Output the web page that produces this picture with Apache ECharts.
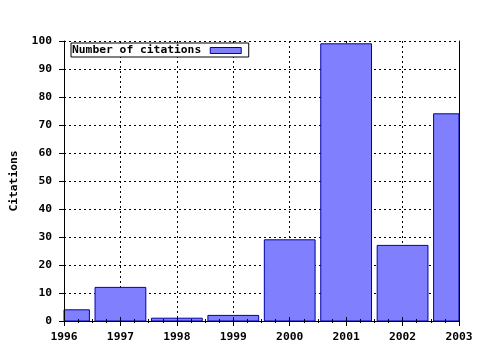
<!DOCTYPE html>
<html><head><meta charset="utf-8">
<script src="https://cdn.jsdelivr.net/npm/echarts@6/dist/echarts.min.js"></script>
<style>html,body{margin:0;padding:0;background:#fff}#c{width:480px;height:350px}</style>
</head><body><div id="c"></div>
<script>
const years = [1996, 1997, 1998, 1999, 2000, 2001, 2002, 2003];
const citations = [4, 12, 1, 2, 29, 99, 27, 74];
const seriesName = 'Number of citations';
const yTitle = 'Citations';

const FONT = 'DejaVu Sans Mono';
const FS = 11.3;
const BAR_FRAC = 0.9;
const FILL = '#8080ff', EDGE = '#0000a8';
const chart = echarts.init(document.getElementById('c'), null, {renderer: 'canvas'});
const dash = {color: '#000', type: [2, 3], width: 1};
const gridBox = {left: 64, right: 21, top: 41, bottom: 29, containLabel: false};
const xMin = years[0], xMax = years[years.length - 1];
const lineStyle = {show: true, lineStyle: {color: '#000', width: 1}};
const txt = {color: '#000', fontFamily: FONT, fontWeight: 'bold', fontSize: FS};

chart.setOption({
  animation: false,
  backgroundColor: '#fff',
  grid: [Object.assign({}, gridBox), Object.assign({}, gridBox)],
  legend: {
    z: 20,
    left: 71, top: 43, orient: 'horizontal', align: 'right',
    itemWidth: 31, itemHeight: 6, icon: 'rect',
    padding: [2, 7, 1, 1],
    borderColor: '#000', borderWidth: 1, borderRadius: 0, backgroundColor: '#fff',
    itemStyle: {color: FILL, borderColor: EDGE, borderWidth: 1},
    textStyle: Object.assign({padding: [0, 4, 0, 0]}, txt),
    data: [seriesName]
  },
  xAxis: [{
    gridIndex: 0, type: 'value', min: xMin, max: xMax, interval: 1, position: 'bottom', z: 0,
    axisLine: {show: false}, axisTick: {show: false}, axisLabel: {show: false},
    splitLine: {show: true, lineStyle: dash}
  }, {
    gridIndex: 1, type: 'value', min: xMin, max: xMax, interval: 1, position: 'bottom', z: 5,
    axisLine: lineStyle,
    axisTick: {show: true, inside: false, length: 5, lineStyle: {color: '#000'}},
    minorTick: {show: true, splitNumber: 4, length: 2, lineStyle: {color: '#000'}},
    axisLabel: Object.assign({margin: 11, formatter: v => String(v)}, txt),
    splitLine: {show: false}
  }, {
    gridIndex: 1, type: 'value', min: xMin, max: xMax, interval: 1, position: 'top', z: 5,
    axisLine: lineStyle,
    axisTick: {show: true, inside: false, length: 4, lineStyle: {color: '#000'}},
    minorTick: {show: true, splitNumber: 4, length: 2, lineStyle: {color: '#000'}},
    axisLabel: {show: false}, splitLine: {show: false}
  }],
  yAxis: [{
    gridIndex: 0, type: 'value', min: 0, max: 100, interval: 10, position: 'left', z: 0,
    axisLine: {show: false}, axisTick: {show: false}, axisLabel: {show: false},
    splitLine: {show: true, lineStyle: dash}
  }, {
    gridIndex: 1, type: 'value', min: 0, max: 100, interval: 10, position: 'left', z: 5,
    name: yTitle, nameLocation: 'middle', nameGap: 44,
    nameTextStyle: txt,
    axisLine: lineStyle,
    axisTick: {show: true, inside: false, length: 5, lineStyle: {color: '#000'}},
    axisLabel: Object.assign({margin: 12}, txt),
    splitLine: {show: false}
  }, {
    gridIndex: 1, type: 'value', min: 0, max: 100, interval: 10, position: 'right', z: 5,
    axisLine: lineStyle,
    axisTick: {show: false}, axisLabel: {show: false}, splitLine: {show: false}
  }],
  series: [{
    name: seriesName, type: 'custom', xAxisIndex: 0, yAxisIndex: 0, z: 2,
    itemStyle: {color: FILL, borderColor: EDGE, borderWidth: 1},
    encode: {x: 0, y: 1},
    renderItem: function (params, api) {
      const x = api.value(0), v = api.value(1);
      const top = api.coord([x, v]);
      const base = api.coord([x, 0]);
      const w = api.size([1, 0])[0] * BAR_FRAC;
      const cs = params.coordSys;
      const r = echarts.graphic.clipRectByRect(
        {x: top[0] - w / 2, y: top[1], width: w, height: base[1] - top[1]},
        {x: cs.x, y: cs.y, width: cs.width, height: cs.height});
      if (!r) return null;
      return {type: 'rect', shape: r, style: {fill: FILL, stroke: EDGE, lineWidth: 1}};
    },
    data: years.map((y, i) => [y, citations[i]])
  }]
});
</script></body></html>
